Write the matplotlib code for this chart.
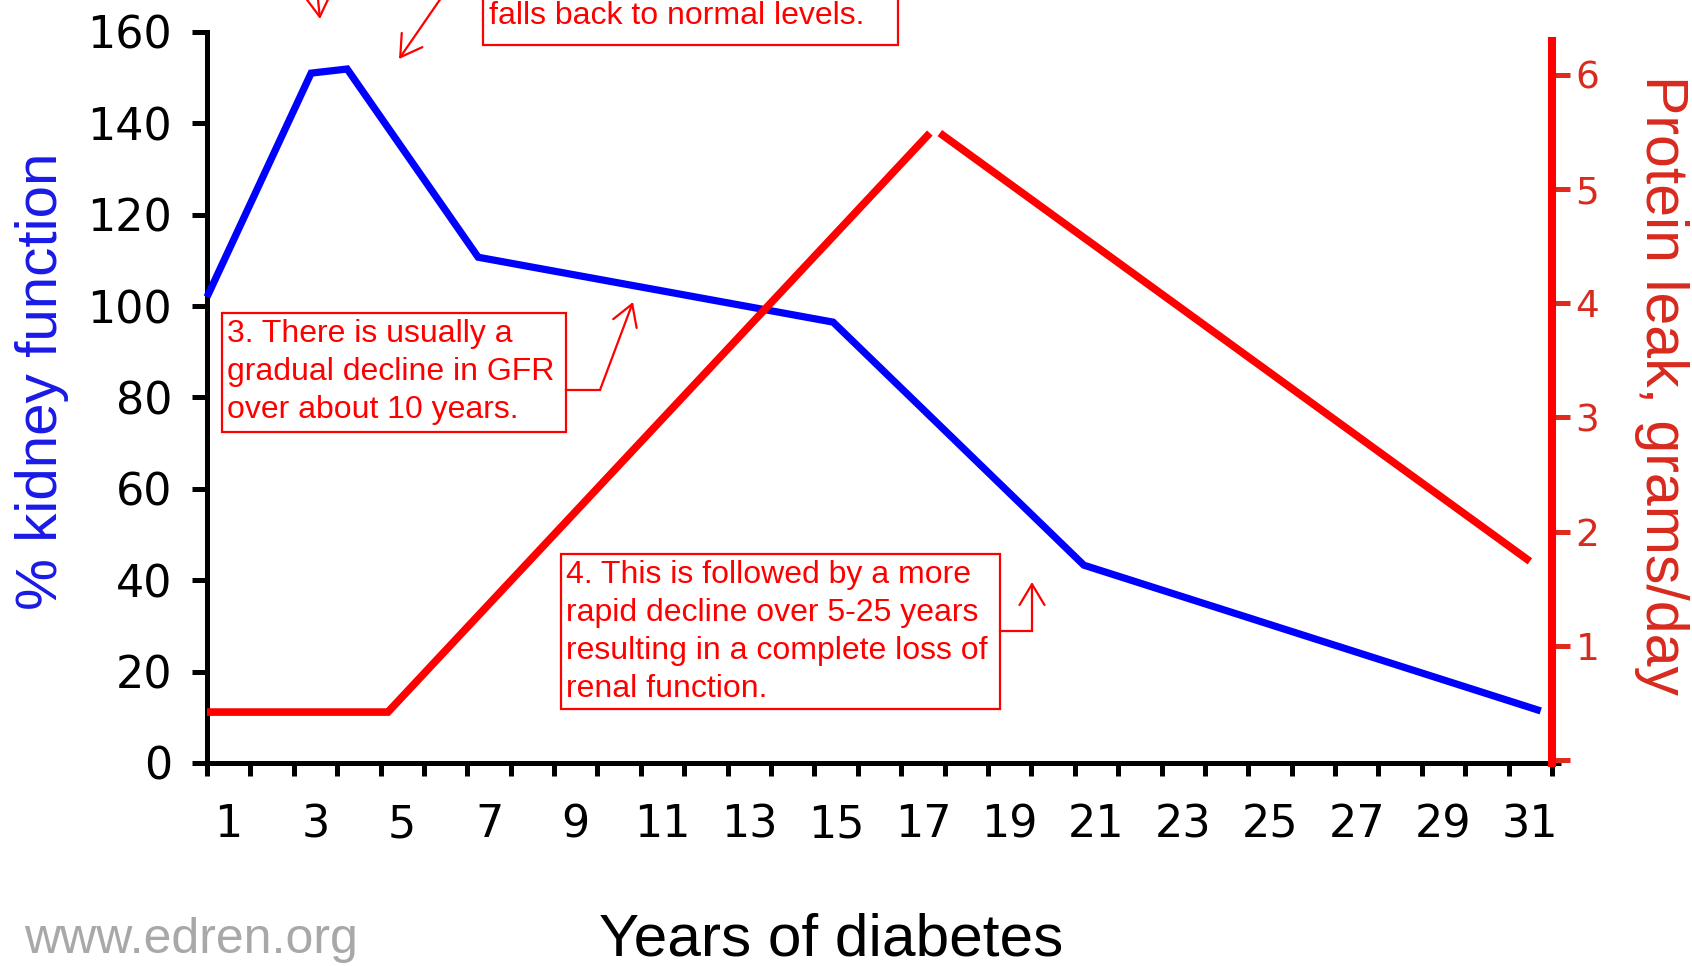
import matplotlib
matplotlib.use("Agg")
import matplotlib.pyplot as plt
import matplotlib.transforms as mtransforms
from matplotlib.lines import Line2D
from matplotlib.patches import Rectangle, FancyArrowPatch

# ---------------- data ----------------
gfr_years = [0.5, 2.9, 3.73, 6.75, 14.93, 20.71, 31.24]
gfr_values = [102.0, 151.0, 151.9, 110.7, 96.5, 43.3, 11.4]

protein_rise_years = [0.5, 4.67, 17.16]
protein_rise_values = [0.42, 0.42, 5.49]
protein_fall_years = [17.39, 30.99]
protein_fall_values = [5.49, 1.74]

year_labels = [1, 3, 5, 7, 9, 11, 13, 15, 17, 19, 21, 23, 25, 27, 29, 31]
year_boundaries = [y - 0.5 for y in range(1, 33)]
gfr_ticks = [0, 20, 40, 60, 80, 100, 120, 140, 160]
protein_ticks = [0, 1, 2, 3, 4, 5, 6]
protein_tick_labels = ["", "1", "2", "3", "4", "5", "6"]

note3 = ["3. There is usually a", "gradual decline in GFR", "over about 10 years."]
note4 = ["4. This is followed by a more", "rapid decline over 5-25 years",
         "resulting in a complete loss of", "renal function."]
note2_tail = "falls back to normal levels."

W, H = 1692, 966
fig = plt.figure(figsize=(W / 100, H / 100), dpi=100)
fig.patch.set_facecolor("white")
# pixel transform (origin top-left)
pxT = mtransforms.Affine2D().scale(1 / W, -1 / H).translate(0, 1) + fig.transFigure

left, right, top, bottom = 207, 1552, 32, 763
ax = fig.add_axes([left / W, (H - bottom) / H, (right - left) / W, (bottom - top) / H])
ax.set_xlim(0.5, 31.5)
ax.set_ylim(0, 160)
ax.patch.set_alpha(0)
for s in ["top", "right"]:
    ax.spines[s].set_visible(False)
ax.spines["left"].set_linewidth(3.6)
ax.spines["bottom"].set_linewidth(3.6)
ax.spines["bottom"].set_bounds(0.5, 31.7)
ax.spines["bottom"].set_capstyle("butt")

ax.set_xticks(year_boundaries)
ax.tick_params(axis="x", which="major", direction="out", length=9, width=3.6,
               labelbottom=False, color="black")
ax.set_xticks(year_labels, minor=True)
ax.set_xticklabels([str(y) for y in year_labels], minor=True)
ax.tick_params(axis="x", which="minor", length=0, pad=29, labelsize=32)
ax.set_yticks(gfr_ticks)
ax.tick_params(axis="y", direction="out", length=11, width=3.6, pad=14, labelsize=32)
for lab in ax.get_xticklabels(minor=True) + ax.get_yticklabels():
    lab.set_fontfamily("DejaVu Sans")

ax.plot(gfr_years, gfr_values, color="#0000ff", lw=5.2, solid_joinstyle="miter",
        solid_capstyle="butt", clip_on=False, zorder=3)

ax2 = ax.twinx()
ax2.set_ylim(-0.026, 6.375)
for s in ["top", "left", "bottom"]:
    ax2.spines[s].set_visible(False)
ax2.spines["right"].set_color("#ff0000")
ax2.spines["right"].set_linewidth(5.8)
ax2.spines["right"].set_bounds(-0.026, 6.30)
ax2.set_yticks(protein_ticks)
ax2.set_yticklabels(protein_tick_labels)
ax2.tick_params(axis="y", direction="out", length=13, width=3.6, pad=4,
                labelsize=27, color="#e02a1e", labelcolor="#d82a1e")
ax2.plot(protein_rise_years, protein_rise_values, color="#ff0000", lw=5.5,
         solid_capstyle="butt", solid_joinstyle="miter", clip_on=False)
ax2.plot(protein_fall_years, protein_fall_values, color="#ff0000", lw=5.5,
         solid_capstyle="butt", solid_joinstyle="miter", clip_on=False)

# axis titles
fig.text(42, 381, "% kidney function", transform=pxT, rotation=90, ha="center",
         va="center", fontsize=42, color="#1a1ae6", family="Liberation Sans")
fig.text(1662, 385, "Protein leak, grams/day", transform=pxT, rotation=270,
         ha="center", va="center", fontsize=42.5, color="#d82a1e",
         family="Liberation Sans")
fig.text(831, 956, "Years of diabetes", transform=pxT, ha="center", va="baseline",
         fontsize=43.5, color="black", family="Liberation Sans")
fig.text(24, 953, "www.edren.org", transform=pxT, ha="left", va="baseline",
         fontsize=36, color="#a8a8a8", family="Liberation Sans")

red = "#ff0000"
txt_kw = dict(transform=pxT, ha="left", va="baseline", fontsize=23, color=red,
              family="Liberation Sans")

# note 3
fig.add_artist(Rectangle((222, 313), 344, 119, transform=pxT, fill=False,
                         ec=red, lw=1.6))
for i, line in enumerate(note3):
    fig.text(227, 342 + 38 * i, line, **txt_kw)
fig.add_artist(Line2D([566, 600], [390, 390], transform=pxT, color=red, lw=1.6))
fig.add_artist(FancyArrowPatch((600, 390), (633, 302), transform=pxT,
                               arrowstyle="->,head_length=0.75,head_width=0.45",
                               mutation_scale=20, color=red, lw=1.6,
                               shrinkA=0, shrinkB=0))

# note 4
fig.add_artist(Rectangle((561, 554), 439, 155, transform=pxT, fill=False,
                         ec=red, lw=1.6))
for i, line in enumerate(note4):
    fig.text(566, 583 + 38 * i, line, **txt_kw)
fig.add_artist(Line2D([1000, 1032], [631, 631], transform=pxT, color=red, lw=1.6))
fig.add_artist(FancyArrowPatch((1032, 631), (1032, 582), transform=pxT,
                               arrowstyle="->,head_length=0.75,head_width=0.45",
                               mutation_scale=20, color=red, lw=1.6,
                               shrinkA=0, shrinkB=0))

# note 2 (top, cropped)
fig.add_artist(Rectangle((483, -80), 415, 125, transform=pxT, fill=False,
                         ec=red, lw=1.6))
fig.text(489, 24, note2_tail, **txt_kw)

# arrows from cropped notes at top
fig.add_artist(FancyArrowPatch((314, -40), (320, 19), transform=pxT,
                               arrowstyle="->,head_length=0.75,head_width=0.45",
                               mutation_scale=20, color=red, lw=1.6,
                               shrinkA=0, shrinkB=0))
fig.add_artist(FancyArrowPatch((450, -15), (399, 59), transform=pxT,
                               arrowstyle="->,head_length=0.75,head_width=0.45",
                               mutation_scale=20, color=red, lw=1.6,
                               shrinkA=0, shrinkB=0))

fig.savefig("out.png", dpi=100)
